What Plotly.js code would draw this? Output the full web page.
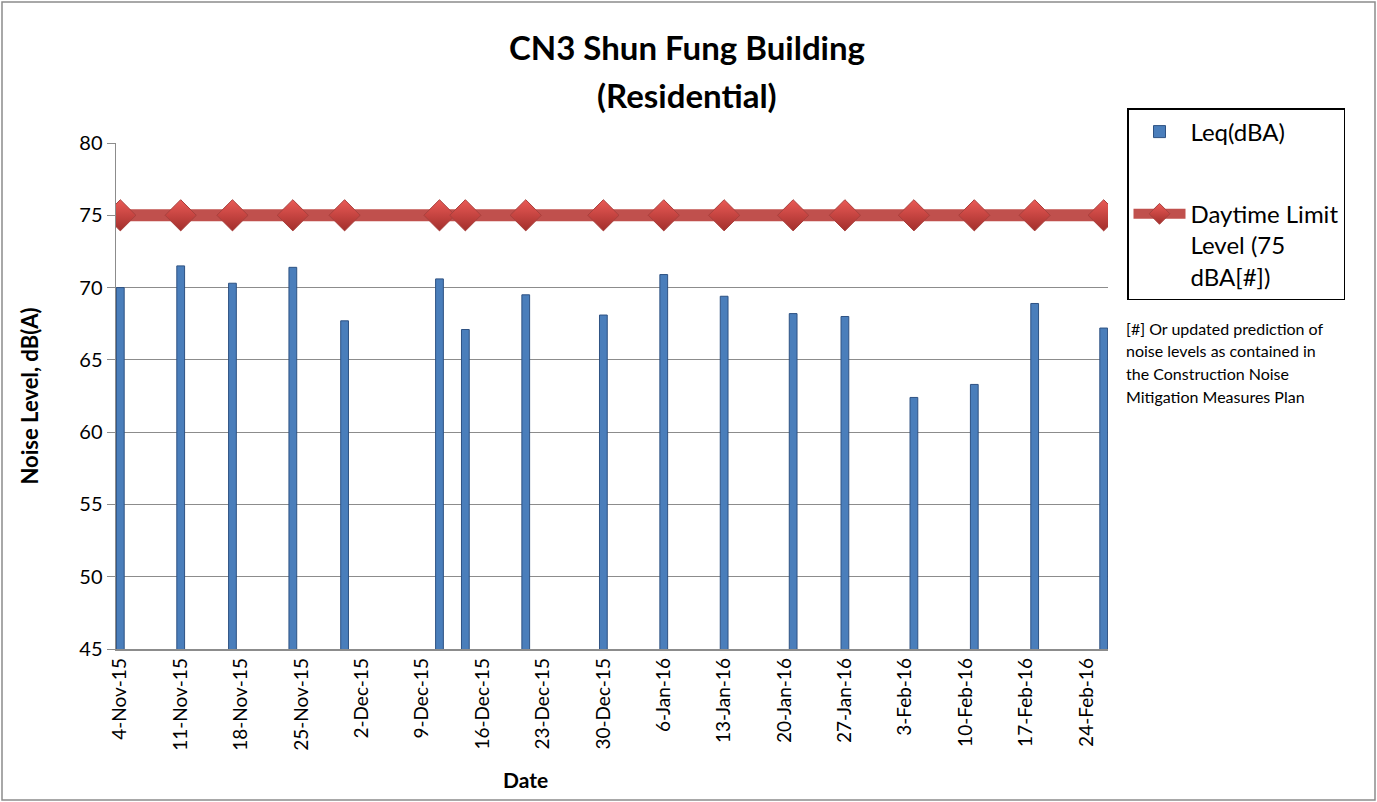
<!DOCTYPE html>
<html>
<head>
<meta charset="utf-8">
<script src="https://cdn.plot.ly/plotly-3.0.1.min.js"></script>
<style>
  html, body { margin: 0; padding: 0; background: #ffffff; }
  #chart { width: 1377px; height: 802px; }
</style>
</head>
<body>
<div id="chart"></div>
<script>
// ---- Data ----
const measureDates = ['2015-11-04','2015-11-11','2015-11-17','2015-11-24','2015-11-30',
  '2015-12-11','2015-12-14','2015-12-21','2015-12-30','2016-01-06','2016-01-13',
  '2016-01-21','2016-01-27','2016-02-04','2016-02-11','2016-02-18','2016-02-26'];
const leqValues = [70.0, 71.5, 70.3, 71.4, 67.7, 70.6, 67.1, 69.5, 68.1,
  70.9, 69.4, 68.2, 68.0, 62.4, 63.3, 68.9, 67.2];
const limitValues = [75, 75, 75, 75, 75, 75, 75, 75, 75, 75, 75, 75, 75, 75, 75, 75, 75];

const tickDates = ['2015-11-04','2015-11-11','2015-11-18','2015-11-25','2015-12-02',
  '2015-12-09','2015-12-16','2015-12-23','2015-12-30','2016-01-06','2016-01-13',
  '2016-01-20','2016-01-27','2016-02-03','2016-02-10','2016-02-17','2016-02-24'];
const tickLabels = ['4-Nov-15','11-Nov-15','18-Nov-15','25-Nov-15','2-Dec-15',
  '9-Dec-15','16-Dec-15','23-Dec-15','30-Dec-15','6-Jan-16','13-Jan-16',
  '20-Jan-16','27-Jan-16','3-Feb-16','10-Feb-16','17-Feb-16','24-Feb-16'];
const yTickVals = [45, 50, 55, 60, 65, 70, 75, 80];

const seriesNames = ['Leq(dBA)', 'Daytime Limit<br>Level (75<br>dBA[#])'];
const chartTitle = 'CN3 Shun Fung Building';
const chartSubtitle = '(Residential)';
const yTitle = 'Noise Level, dB(A)';
const xTitle = 'Date';
const footnoteLines = ['[#] Or updated prediction of', 'noise levels as contained in',
  'the Construction Noise', 'Mitigation Measures Plan'];

// ---- Styling ----
const FONT = 'Lato, "Open Sans", "DejaVu Sans", sans-serif';
const GRID = '#8c8c8c';
const W = 1377, H = 802;
const M = { l: 116, r: 269, t: 143, b: 153 };
const plotW = W - M.l - M.r, plotH = H - M.t - M.b;
const px2x = px => (px - M.l) / plotW;
const py2y = py => (H - M.b - py) / plotH;

const traces = [
  {
    type: 'bar',
    name: seriesNames[0],
    legendgroup: 'a',
    x: measureDates,
    y: leqValues,
    width: 0.9 * 86400000,
    marker: { color: '#4A7EBB', line: { color: '#2E5283', width: 1 } },
    hoverinfo: 'x+y'
  },
  {
    type: 'scatter',
    mode: 'lines+markers',
    name: seriesNames[1],
    legendgroup: 'b',
    x: measureDates,
    y: limitValues,
    line: { color: '#C0504D', width: 12 },
    marker: {
      symbol: 'diamond', size: 24, color: '#EA5A56',
      gradient: { type: 'vertical', color: '#A22F2C' },
      line: { color: '#A8403D', width: 1 }
    }
  }
];

const annotations = [
  {
    text: '<b>' + chartSubtitle + '</b>', xref: 'paper', yref: 'paper',
    x: px2x(687), y: py2y(95), xanchor: 'center', yanchor: 'middle',
    showarrow: false, font: { family: FONT, size: 33, color: '#000' }
  },
  {
    text: '<b>' + xTitle + '</b>', xref: 'paper', yref: 'paper',
    x: px2x(525), y: py2y(779), xanchor: 'center', yanchor: 'middle',
    showarrow: false, font: { family: FONT, size: 21, color: '#000' }
  }
];
footnoteLines.forEach((t, i) => {
  annotations.push({
    text: t, xref: 'paper', yref: 'paper',
    x: px2x(1124), y: py2y(328 + i * 22.7), xanchor: 'left', yanchor: 'middle',
    showarrow: false, font: { family: FONT, size: 16, color: '#000' }
  });
});

const layout = {
  width: W, height: H,
  margin: M,
  paper_bgcolor: '#ffffff',
  plot_bgcolor: '#ffffff',
  font: { family: FONT, color: '#000' },
  title: {
    text: '<b>' + chartTitle + '</b>',
    xref: 'paper', x: px2x(687), xanchor: 'center',
    yref: 'container', y: 1 - 48 / H, yanchor: 'middle',
    font: { family: FONT, size: 33, color: '#000' }
  },
  showlegend: true,
  legend: {
    x: px2x(1127), y: py2y(108), xanchor: 'left', yanchor: 'top',
    bordercolor: '#000', borderwidth: 1.5, bgcolor: '#fff',
    font: { family: FONT, size: 24, color: '#000' },
    traceorder: 'grouped', tracegroupgap: 48,
    valign: 'top', itemwidth: 52
  },
  bargap: 0,
  xaxis: {
    type: 'date',
    range: ['2015-11-03 12:00', '2016-02-26 12:00'],
    tickmode: 'array', tickvals: tickDates, ticktext: tickLabels,
    tickangle: -90,
    tickfont: { family: FONT, size: 19, color: '#000' },
    showgrid: false, zeroline: false,
    showline: true, linecolor: GRID, linewidth: 1.5,
    ticks: '', fixedrange: true
  },
  yaxis: {
    range: [45, 80],
    tickmode: 'array', tickvals: yTickVals,
    tickfont: { family: FONT, size: 20, color: '#000' },
    showgrid: true, gridcolor: GRID, gridwidth: 1,
    zeroline: false,
    showline: true, linecolor: GRID, linewidth: 1.5,
    ticks: 'outside', ticklen: 8, tickcolor: GRID, tickwidth: 1,
    title: { text: '<b>' + yTitle + '</b>', standoff: 34,
      font: { family: FONT, size: 22, color: '#000' } },
    fixedrange: true
  },
  annotations: annotations,
  shapes: [
    {
      type: 'rect', xref: 'paper', yref: 'paper', layer: 'below',
      x0: px2x(2), x1: px2x(1375), y0: py2y(800), y1: py2y(2),
      line: { color: '#8c8c8c', width: 1.5 }, fillcolor: 'rgba(0,0,0,0)'
    }
  ]
};

Plotly.newPlot('chart', traces, layout, { staticPlot: true, displayModeBar: false });
</script>
</body>
</html>
